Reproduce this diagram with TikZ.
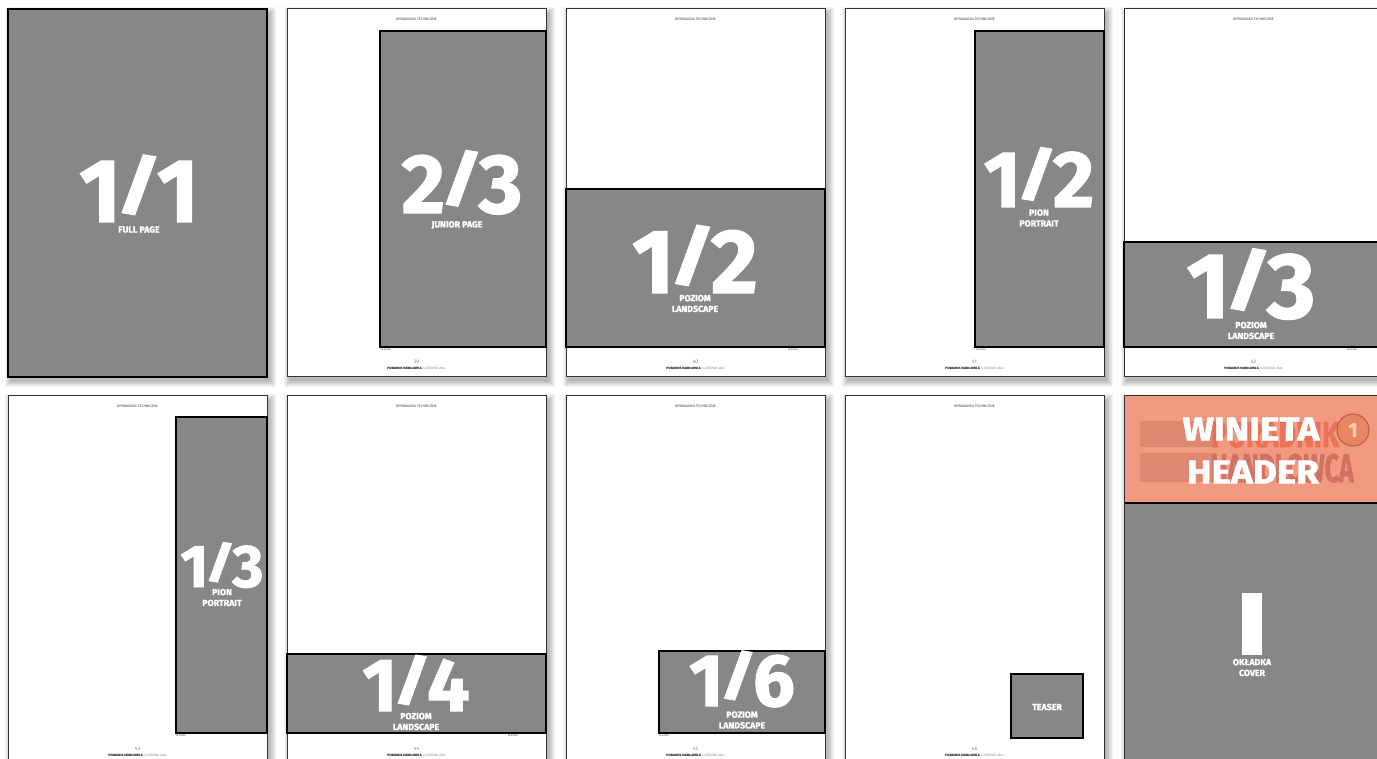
\documentclass[tikz,border=0pt]{standalone}
\usepackage{fontspec}
\usepackage{graphicx}
\setmainfont{Fira Sans}
\newfontfamily\heavy{Fira Sans}[BoldFeatures={FakeBold=1.5}]
\definecolor{adgray}{HTML}{878787}
\definecolor{salmon}{HTML}{F29A80}
\definecolor{bandc}{HTML}{DF8870}
\definecolor{porc}{HTML}{E8664E}
\definecolor{handc}{HTML}{C8695E}
\definecolor{coinc}{HTML}{E8845E}
\newcommand\myslash{\kern-0.06em\raisebox{0.16em}{\scalebox{1}[0.72]{/}}\kern-0.06em}
\tikzset{
  pagebox/.style={draw=black!80, line width=1pt, fill=white},
  adbox/.style={draw=black, line width=1.1pt, fill=adgray},
  bignum/.style={text=white, inner sep=0pt, anchor=base},
  lbl/.style={text=white, inner sep=0pt, align=center, font=\heavy\bfseries\fontsize{8.8}{10.8}\selectfont},
  hdr/.style={text=black!75, inner sep=0pt, font=\fontsize{3.6}{4}\selectfont},
  pnum/.style={text=black!50, inner sep=0pt, font=\fontsize{5}{5}\selectfont},
  foot/.style={text=black, inner sep=0pt, font=\fontsize{3.2}{4}\selectfont},
  rek/.style={text=black!70, inner sep=0pt, font=\fontsize{2.4}{3}\selectfont},
}
\newcommand\shadowpage[2]{%
  \foreach \k in {0,...,6}{\fill[black, opacity=0.045] (#1+3-\k,#2+4-\k) rectangle (#1+262+\k,#2+372+\k);}
}
\newcommand\plainpage[4]{% x, y, name, page number
  \shadowpage{#1}{#2}
  \draw[pagebox] (#1,#2) rectangle (#1+259,#2+368);
  \node[hdr] (#3h) at (#1+129.5,#2+10) {WYMAGANIA TECHNICZNE};
  \node[pnum] (#3n) at (#1+129.5,#2+353) {#4};
  \node[foot] (#3f) at (#1+129.5,#2+359) {\textbf{PORADNIK HANDLOWCA} \textcolor{black!50}{| LISTOPAD 2024}};
}
\newcommand\bigf[1]{\heavy\bfseries\fontsize{#1}{#1}\selectfont}
\begin{document}
\begin{tikzpicture}[x=1pt,y=-1pt]
\useasboundingbox (0,0) rectangle (1377,759);
\fill[white] (0,0) rectangle (1377,759);

% ---- page 1: full page
\shadowpage{8}{9}
\draw[adbox] (8,9) rectangle (267,377);
\node[bignum, font=\bigf{90}] (n1) at (139,222) {1\myslash1};
\node[lbl] (l1) at (139,229.5) {FULL PAGE};

% ---- page 2: junior page
\plainpage{287}{9}{p2}{39}
\draw[adbox] (380,31) rectangle (546,347);
\node[bignum, font=\bigf{84}] (n2) at (462,213) {2\myslash3};
\node[lbl] (l2) at (457,225) {JUNIOR PAGE};
\node[rek] (r2) at (386,350) {REKLAMA};

% ---- page 3: 1/2 landscape
\plainpage{566}{9}{p3}{40}
\draw[adbox] (566,189) rectangle (825,347);
\node[bignum, font=\bigf{91}] (n3) at (695,293) {1\myslash2};
\node[lbl] (l3) at (695,303.5) {POZIOM\\LANDSCAPE};
\node[rek] (r3) at (793,350) {REKLAMA};

% ---- page 4: 1/2 portrait
\plainpage{845}{9}{p4}{41}
\draw[adbox] (975,31) rectangle (1104,347);
\node[bignum, font=\bigf{80}] (n4) at (1039,207) {1\myslash2};
\node[lbl] (l4) at (1039,218) {PION\\PORTRAIT};
\node[rek] (r4) at (981,350) {REKLAMA};

% ---- page 5: 1/3 landscape
\plainpage{1124}{9}{p5}{42}
\draw[adbox] (1124,242) rectangle (1383,347);
\node[bignum, font=\bigf{93}] (n5) at (1251,318) {1\myslash3};
\node[lbl] (l5) at (1251,330.5) {POZIOM\\LANDSCAPE};
\node[rek] (r5) at (1352,350) {REKLAMA};

% ---- page 6: 1/3 portrait
\plainpage{8}{396}{p6}{43}
\draw[adbox] (176,417) rectangle (267,733);
\node[bignum, font=\bigf{60}] (n6) at (222,587) {1\myslash3};
\node[lbl] (l6) at (222,597.5) {PION\\PORTRAIT};
\node[rek] (r6) at (181,736) {REKLAMA};

% ---- page 7: 1/4 landscape
\plainpage{287}{396}{p7}{44}
\draw[adbox] (287,654) rectangle (546,733);
\node[bignum, font=\bigf{75}] (n7) at (416,711) {1\myslash4};
\node[lbl] (l7) at (416,721.5) {POZIOM\\LANDSCAPE};
\node[rek] (r7) at (513,736) {REKLAMA};

% ---- page 8: 1/6 landscape
\plainpage{566}{396}{p8}{45}
\draw[adbox] (659,651) rectangle (825,733);
\node[bignum, font=\bigf{74}] (n8) at (742,706) {1\myslash6};
\node[lbl] (l8) at (742,720) {POZIOM\\LANDSCAPE};
\node[rek] (r8) at (664,736) {REKLAMA};

% ---- page 9: teaser
\plainpage{845}{396}{p9}{46}
\draw[adbox] (1011,674) rectangle (1083,738);
\node[lbl] (l9) at (1047,707) {TEASER};

% ---- page 10: cover
\shadowpage{1124}{396}
\fill[adgray] (1124,396) rectangle (1383,764);
\fill[salmon] (1124,396) rectangle (1383,503);
\fill[bandc] (1140,421) rectangle (1216,447);
\fill[bandc] (1140,453) rectangle (1216,482);
\node[inner sep=0pt, anchor=base west, text=porc, opacity=0.75, xscale=0.75,
      font=\heavy\bfseries\fontsize{36}{36}\selectfont] (por) at (1211,447) {PORADNIK};
\node[inner sep=0pt, anchor=base west, text=handc, opacity=0.8, xscale=0.62,
      font=\heavy\bfseries\fontsize{40}{40}\selectfont] (han) at (1211,482) {HANDLOWCA};
\node[circle, fill=coinc, draw=porc!80!black, line width=1pt, minimum size=32pt, inner sep=0pt,
      text=salmon!50!white, font=\heavy\bfseries\fontsize{20}{20}\selectfont, opacity=0.9] (coin) at (1353,430) {1};
\node[inner sep=0pt, text=white, xscale=1.12, font=\heavy\bfseries\fontsize{33}{33}\selectfont] (win) at (1251,429) {WINIETA};
\node[inner sep=0pt, text=white, xscale=1.12, font=\heavy\bfseries\fontsize{33}{33}\selectfont] (head) at (1253,472) {HEADER};
\draw[black, line width=1.1pt] (1124,503) -- (1383,503);
\draw[black!80, line width=1pt] (1124,764) -- (1124,396) -- (1383,396);
\fill[white] (1242,593) rectangle (1262,655);
\node[lbl] (l10) at (1252,667.5) {OKŁADKA\\COVER};
\end{tikzpicture}
\end{document}
